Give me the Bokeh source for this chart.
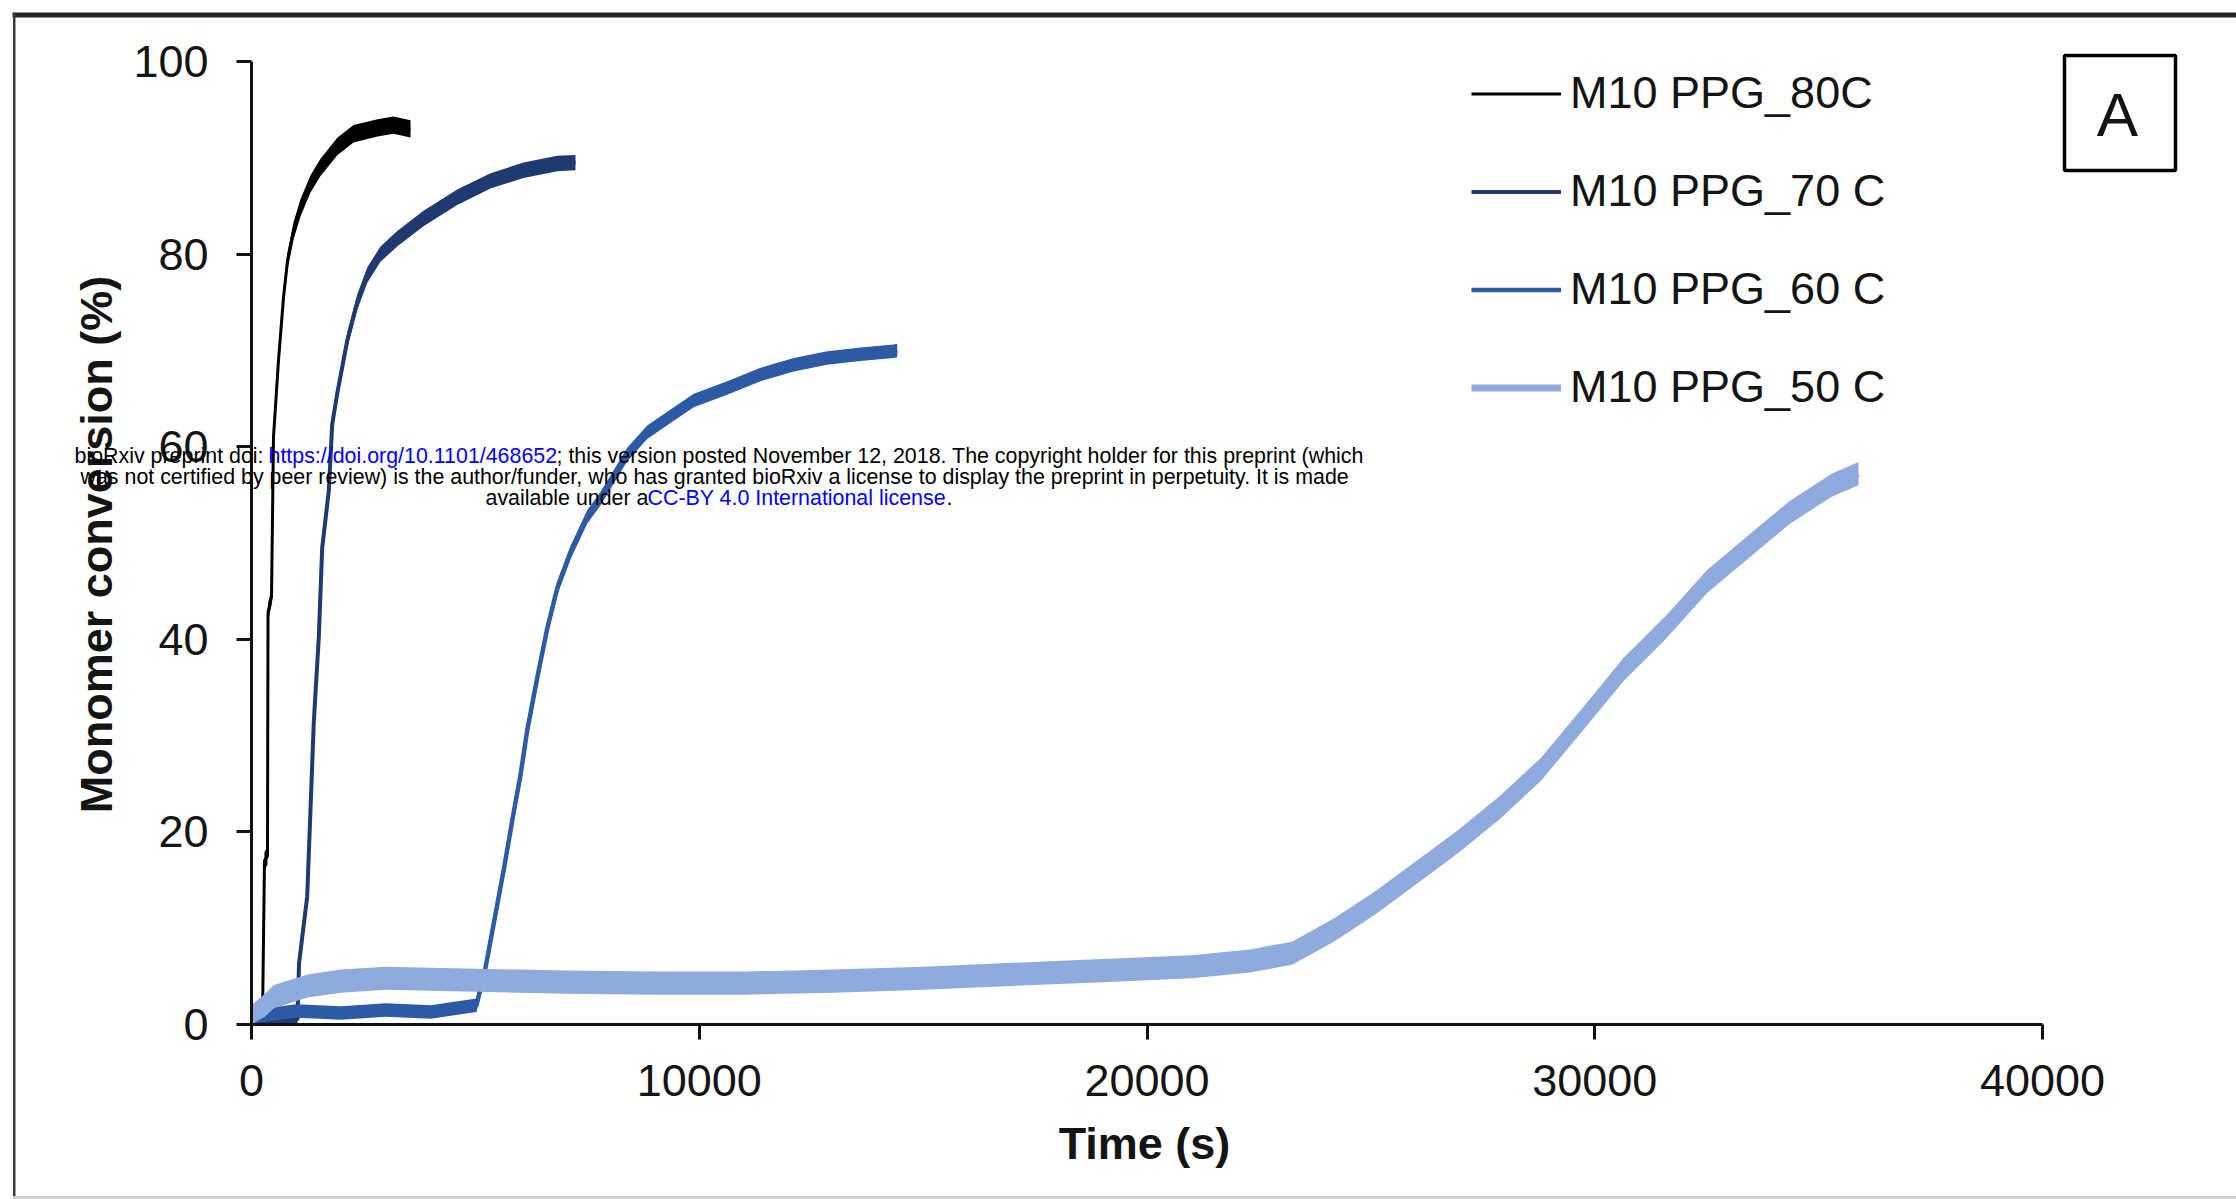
import math
from bokeh.plotting import figure
from bokeh.models import Range1d, FixedTicker, Legend, LegendItem, Label, BoxAnnotation
from bokeh.embed import file_html
from bokeh.resources import INLINE

# ---------------- data ----------------
series_names = ["M10 PPG_80C", "M10 PPG_70 C", "M10 PPG_60 C", "M10 PPG_50 C"]

t80 = [0, 245, 290, 357, 369, 447, 491, 603, 715, 804, 938, 1094, 1318, 1541, 1921, 2278, 2814, 3171, 3551]
v80 = [0.3, 0.4, 17.0, 17.5, 42.8, 44.4, 61.0, 69.0, 75.5, 79.3, 82.4, 84.8, 87.3, 89.0, 91.2, 92.5, 93.1, 93.4, 93.0]

t70 = [0, 870, 1027, 1061, 1244, 1318, 1391, 1503, 1579, 1726, 1802, 1914, 2137, 2361, 2584, 2881, 3254, 3841, 4594, 5338, 6075, 6827, 7236]
v70 = [0.3, 0.4, 0.6, 6.3, 13.3, 22.4, 31.4, 40.2, 49.5, 55.4, 62.3, 65.5, 71.0, 75.0, 77.8, 80.0, 81.6, 83.7, 85.9, 87.6, 88.7, 89.4, 89.5]

t60 = [0, 1000, 2000, 3000, 4000, 5025, 5226, 5411, 5635, 5858, 6008, 6157, 6381, 6604, 6828, 7124, 7497, 7794, 8391, 8837, 9432, 9878, 10624, 11368, 12112, 12857, 13601, 14345, 14421]
v60 = [0.8, 1.4, 1.2, 1.5, 1.3, 2.0, 5.9, 10.5, 16.1, 22.1, 25.9, 30.5, 36.0, 41.1, 45.3, 49.0, 52.7, 54.6, 59.2, 61.5, 63.4, 64.8, 66.1, 67.5, 68.5, 69.2, 69.6, 69.9, 70.0]

t50 = [0, 300, 500, 1250, 2000, 3000, 5000, 7000, 9000, 11000, 13000, 15000, 17000, 19000, 21000, 22300, 23240, 24170, 25090, 26020, 26950, 27870, 28800, 29730, 30650, 31580, 32510, 33430, 34360, 35290, 35890]
v50 = [0.8, 2.0, 2.9, 4.0, 4.5, 4.8, 4.6, 4.4, 4.3, 4.3, 4.5, 4.8, 5.2, 5.6, 6.0, 6.6, 7.4, 9.8, 12.6, 15.8, 19.0, 22.5, 26.5, 31.7, 36.9, 41.2, 46.0, 49.6, 53.2, 56.0, 57.2]

# half-height of the noise band of each trace (% conversion)
noise_half = [0.9, 0.8, 0.7, 1.2]

x_ticks = [0, 10000, 20000, 30000, 40000]
y_ticks = [0, 20, 40, 60, 80, 100]

x_title = "Time (s)"
y_title = "Monomer conversion (%)"

# ---------------- styles / layout ----------------
W, H = 2236, 1199
X0_PX, X40K_PX = 251, 2042       # pixel column of x=0 and x=40000
Y0_PX, Y100_PX = 1024, 61        # pixel row of y=0 and y=100
colors = ["#000000", "#1F3A70", "#2C5AA5", "#8FAADC"]
line_w = [3, 4, 4.5, 7]
FONT = "Liberation Sans"
TXT = "#141414"

sx = (X40K_PX - X0_PX) / 40000.0
sy = (Y0_PX - Y100_PX) / 100.0
x_range = Range1d(-X0_PX / sx, (W - X0_PX) / sx)
y_range = Range1d(-(H - Y0_PX) / sy, Y0_PX / sy)

p = figure(width=W, height=H, title=None, x_range=x_range, y_range=y_range,
           output_backend="svg", toolbar_location=None,
           min_border_left=0, min_border_bottom=0, min_border_top=0, min_border_right=0)
p.outline_line_color = None
p.background_fill_color = "white"
p.border_fill_color = "white"
p.xgrid.grid_line_color = None
p.ygrid.grid_line_color = None

for ax, ticks, bnd in ((p.xaxis[0], x_ticks, (0, 40000)), (p.yaxis[0], y_ticks, (0, 100))):
    ax.fixed_location = 0
    ax.ticker = FixedTicker(ticks=ticks)
    ax.bounds = bnd
    ax.axis_line_width = 3
    ax.axis_line_color = "#111111"
    ax.major_tick_line_width = 3
    ax.major_tick_line_color = "#111111"
    ax.major_tick_in = 0
    ax.major_tick_out = 15
    ax.minor_tick_line_color = None
    ax.major_label_text_font = FONT
    ax.major_label_text_font_size = "45px"
    ax.major_label_text_color = TXT
p.xaxis.major_label_standoff = 25
p.yaxis.major_label_standoff = 28

# axis titles
p.add_layout(Label(x=1144, y=H - 1143, x_units="screen", y_units="screen", text=x_title,
                   text_align="center", text_baseline="middle", text_font=FONT,
                   text_font_size="45px", text_font_style="bold", text_color=TXT))
p.add_layout(Label(x=96, y=H - 544, x_units="screen", y_units="screen", text=y_title, angle=math.pi / 2,
                   text_align="center", text_baseline="middle", text_font=FONT,
                   text_font_size="45px", text_font_style="bold", text_color=TXT))

series = [(t80, v80), (t70, v70), (t60, v60), (t50, v50)]
legend_items = []
for (tt, vv), c, lw, nh, name in zip(series, colors, line_w, noise_half, series_names):
    lo = [max(v - nh, 0.0) for v in vv]
    hi = [v + nh for v in vv]
    p.varea(x=tt, y1=lo, y2=hi, fill_color=c)
    r = p.line(x=tt, y=vv, line_color=c, line_width=lw, line_join="round")
    legend_items.append(LegendItem(label=name, renderers=[r]))

legend = Legend(items=legend_items, location=(1471, H - 413),
                glyph_width=90, glyph_height=51, label_height=51, spacing=46,
                label_standoff=9, padding=0, margin=0,
                border_line_color=None, background_fill_alpha=0,
                label_text_font=FONT, label_text_font_size="45px", label_text_color=TXT)
p.add_layout(legend)

def box(l, r, t, b, **kw):
    return BoxAnnotation(left=l, right=r, top=H - t, bottom=H - b,
                         left_units="screen", right_units="screen",
                         top_units="screen", bottom_units="screen", **kw)

# panel letter box
p.add_layout(box(2064, 2175, 55, 170, fill_alpha=0, line_color="#000000", line_alpha=1, line_width=3.5))
p.add_layout(Label(x=2117, y=H - 114, x_units="screen", y_units="screen",
                   text="A", text_align="center", text_baseline="middle",
                   text_font=FONT, text_font_size="62px", text_color=TXT))

# outer border of the figure panel
p.add_layout(box(12, W + 5, 12, 17, fill_color="#262626", fill_alpha=1, line_color=None))
p.add_layout(box(12.5, 15, 12, H + 5, fill_color="#3a3a3a", fill_alpha=1, line_color=None))
p.add_layout(box(12, W + 5, 1195.5, H + 5, fill_color="#cfcfcf", fill_alpha=1, line_color=None))

# bioRxiv watermark
wm = [
    ("bioRxiv preprint doi: ", "#000000", 74, 455),
    ("https://doi.org/10.1101/468652", "#0000FF", 268, 455),
    ("; this version posted November 12, 2018. The copyright holder for this preprint (which", "#000000", 556, 455),
    ("was not certified by peer review) is the author/funder, who has granted bioRxiv a license to display the preprint in perpetuity. It is made", "#000000", 80, 476),
    ("available under a", "#000000", 485, 497),
    ("CC-BY 4.0 International license", "#0000FF", 647, 497),
    (".", "#000000", 946, 497),
]
for txt, c, px, py in wm:
    p.add_layout(Label(x=px, y=H - py, x_units="screen", y_units="screen",
                       text=txt, text_align="left", text_baseline="middle",
                       text_font=FONT, text_font_size="21.4px", text_color=c))

open("out.html", "w").write(file_html(p, INLINE))
